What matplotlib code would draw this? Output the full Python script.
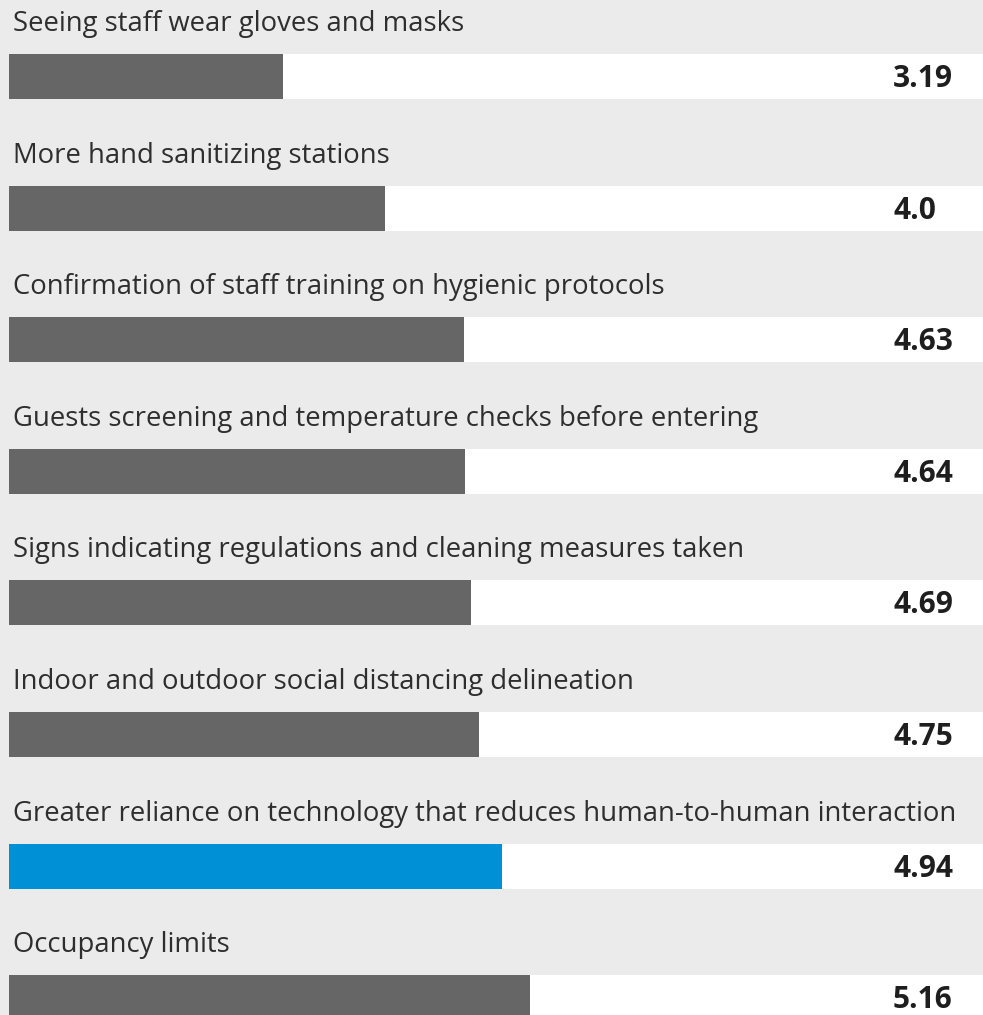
import numpy as np
import matplotlib
matplotlib.use("Agg")
import matplotlib.pyplot as plt
from matplotlib.transforms import blended_transform_factory

# -- Data --
labels = [
    "Seeing staff wear gloves and masks",
    "More hand sanitizing stations",
    "Confirmation of staff training on hygienic protocols",
    "Guests screening and temperature checks before entering",
    "Signs indicating regulations and cleaning measures taken",
    "Indoor and outdoor social distancing delineation",
    "Greater reliance on technology that reduces human-to-human interaction",
    "Occupancy limits",
]
scores = [3.19, 4.0, 4.63, 4.64, 4.69, 4.75, 4.94, 5.16]
value_text = ["3.19", "4.0", "4.63", "4.64", "4.69", "4.75", "4.94", "5.16"]
highlight = 6

plt.rcParams['font.family'] = ['Open Sans', 'DejaVu Sans']

W, H = 983, 1015
fig = plt.figure(figsize=(W / 100, H / 100), dpi=100)
fig.patch.set_facecolor('#ebebeb')
ax = fig.add_axes([0, 0, 1, 1])
ax.set_facecolor('#ebebeb')

# scale starts at 1; 125 px per point, bars start 9 px from the left edge
px = 125.24
x0 = 1 - 9 / px
x1 = 1 + (W - 9) / px
ax.set_xlim(x0, x1)
ax.set_ylim(H, 0)

row_step = 131.6
band_top = 54
band_h = 45
tops = band_top + row_step * np.arange(len(scores))
centers = tops + band_h / 2

ax.barh(centers, x1 - 1, left=1, height=band_h, color='white', zorder=1)
colors = ['#0090d6' if i == highlight else '#666666' for i in range(len(scores))]
ax.barh(centers, np.array(scores) - 1, left=1, height=band_h, color=colors, zorder=2)

tr = blended_transform_factory(ax.transAxes, ax.transData)
for i, (lab, val) in enumerate(zip(labels, value_text)):
    ax.text(13 / W, tops[i] - 23, lab, transform=tr, fontsize=19.8,
            color='#2e2e2e', ha='left', va='baseline')
    ax.text(893 / W, tops[i] + 33, val, transform=tr, fontsize=21.5,
            fontweight='bold', color='#1e1e1e', ha='left', va='baseline')

ax.axis('off')
fig.savefig('out.png', dpi=100, facecolor=fig.get_facecolor())
